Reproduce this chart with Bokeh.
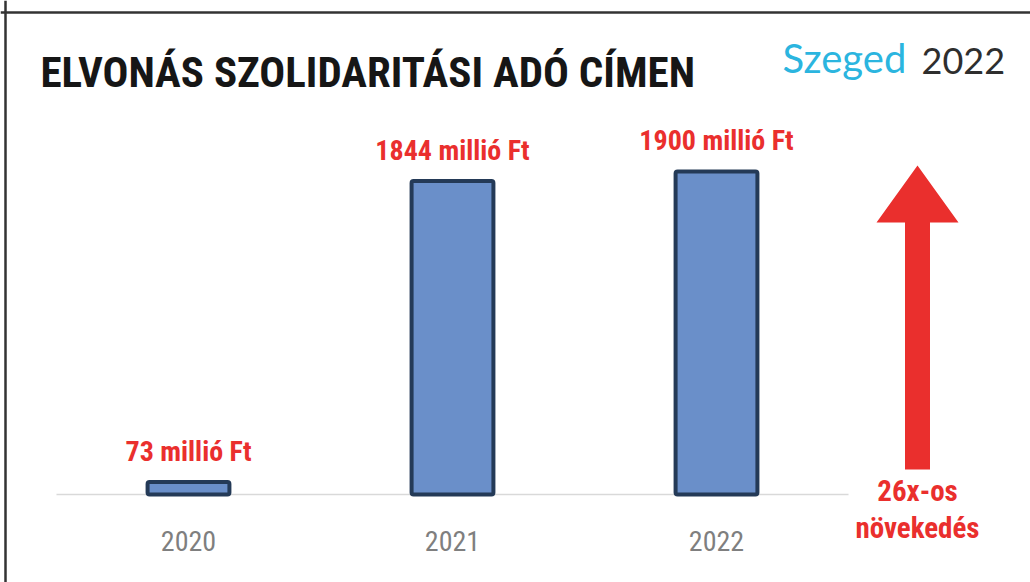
from bokeh.plotting import figure
from bokeh.models import Label, Span, FixedTicker
from bokeh.core.properties import value
from bokeh.embed import file_html
from bokeh.resources import INLINE

# ---- data ----
categories = ["2020", "2021", "2022"]
values = [73, 1844, 1900]
value_labels = ["73 millió Ft", "1844 millió Ft", "1900 millió Ft"]
title_text = "ELVONÁS SZOLIDARITÁSI ADÓ CÍMEN"
growth_text = ["26x-os", "növekedés"]

# ---- layout constants (pixels) ----
W, H = 1030, 582
PX_PER_CAT = 264.0
X0_PX = 188.0
BASE_PX = 494.0
PX_PER_UNIT = 0.17

def dx(px):
    return (px - X0_PX) / PX_PER_CAT

def dy(py):
    return (BASE_PX - py) / PX_PER_UNIT

COND = "Roboto Condensed"
RED = "#ea2f2d"

p = figure(width=W, height=H, output_backend="svg", toolbar_location=None,
           x_range=(dx(0), dx(W)), y_range=(dy(H), dy(0)),
           y_axis_location=None, min_border=0, outline_line_color=None,
           background_fill_color="white", border_fill_color="white")
p.grid.visible = False

idx = list(range(len(categories)))

p.segment(x0=[-0.5], y0=[0], x1=[len(categories) - 0.5], y1=[0],
          line_color="#d9d9d9", line_width=1.5)

p.vbar(x=idx, top=values, bottom=0, width=0.31, fill_color="#6a8fc9",
       line_color="#243a57", line_width=4, border_radius=2)

p.text(x=idx, y=values, text=value_labels, text_align="center",
       text_baseline="middle", y_offset=-31, text_color=RED,
       text_font=value(COND), text_font_style="bold", text_font_size="28px")

ax = p.xaxis[0]
ax.fixed_location = 0
ax.ticker = FixedTicker(ticks=idx)
ax.major_label_overrides = {i: c for i, c in zip(idx, categories)}
ax.axis_line_color = None
ax.major_tick_line_color = None
ax.minor_tick_line_color = None
ax.major_label_standoff = 30
ax.major_label_text_font = COND
ax.major_label_text_font_size = "28px"
ax.major_label_text_color = "#7f7f7f"

tip_y, head_y, bot_y = 165, 222, 469
cx, head_half, shaft_half = 917, 41, 12.5
ax_px = [cx, cx + head_half, cx + shaft_half, cx + shaft_half,
         cx - shaft_half, cx - shaft_half, cx - head_half]
ay_px = [tip_y, head_y, head_y, bot_y, bot_y, head_y, head_y]
p.patch(x=[dx(v) for v in ax_px], y=[dy(v) for v in ay_px],
        fill_color=RED, line_color=None)

for i, t in enumerate(growth_text):
    p.add_layout(Label(x=dx(cx), y=dy(490 + 37 * i), text=t, text_align="center",
                       text_baseline="middle", text_color=RED,
                       text_font=COND, text_font_style="bold",
                       text_font_size="29px"))

p.add_layout(Label(x=dx(40), y=dy(71), text=title_text, text_align="left",
                   text_baseline="middle", text_color="#161616",
                   text_font=COND, text_font_style="bold",
                   text_font_size="43px"))

p.add_layout(Label(x=dx(782), y=dy(57), text="Szeged", text_align="left",
                   text_baseline="middle", text_color="#2bb5df",
                   text_font="Lato", text_font_size="40px"))
p.add_layout(Label(x=dx(921), y=dy(60), text="2022", text_align="left",
                   text_baseline="middle", text_color="#2e2e2e",
                   text_font="Lato", text_font_size="36px"))

p.add_layout(Span(location=dy(12), dimension="width", line_color="#333333", line_width=2.5))
p.add_layout(Span(location=dx(5), dimension="height", line_color="#333333", line_width=2.5))

open("out.html", "w").write(file_html(p, INLINE))
